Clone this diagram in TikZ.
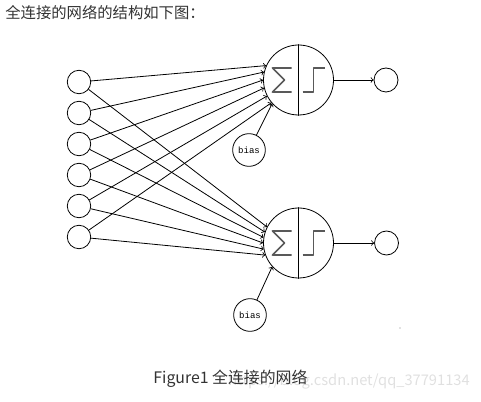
\documentclass[tikz,border=0pt]{standalone}
\usepackage{fontspec}
\setmainfont{Noto Sans CJK SC}
\newfontfamily\biasfont{Liberation Mono}
\begin{document}
\begin{tikzpicture}[x=0.75pt, y=-0.75pt, line cap=round, line join=round, line width=0.6pt,
    unit/.style={circle, draw, minimum size=17.6pt, inner sep=0pt},
    neuron/.style={circle, draw, minimum size=52.5pt, inner sep=0pt},
    biasnode/.style={circle, draw, minimum size=24.5pt, inner sep=0pt, font=\biasfont\fontsize{6.8}{8}\selectfont},
    outnode/.style={circle, draw, minimum size=18pt, inner sep=0pt},
    link/.style={->},
    glyph/.style={line width=1.3pt, black!65, line cap=butt}]
    \useasboundingbox (0,0) rectangle (481,402);
    \node[anchor=west, inner sep=0pt, text=black!80, font=\fontsize{11.5}{14}\selectfont] (title) at (5,13) {全连接的网络的结构如下图：};
    % inputs
    \foreach \i in {1,...,6}
      \node[unit] (in\i) at (79,{82+31*(\i-1)}) {};
    % neurons with sum and step
    \foreach \n/\y in {1/80, 2/243} {
      \node[neuron] (n\n) at (298.5,\y) {};
      \draw (n\n.north) -- (n\n.south);
      \draw[glyph] ([shift={(-7,-12)}]n\n.center) -- ++(-19,0) -- ++(12,12) -- ++(-12,12) -- ++(19,0);
      \draw[glyph] ([shift={(4,12)}]n\n.center) -- ++(11,0) -- ++(0,-24) -- ++(11,0);
    }
    \node[biasnode] (b1) at (249,150) {bias};
    \node[biasnode] (b2) at (250,315) {bias};
    \node[outnode] (out1) at (386,80) {};
    \node[outnode] (out2) at (386.5,243) {};
    % connections
    \foreach \i/\a/\b in {1/156/153, 2/167/162, 3/180/171, 4/193/180, 5/207/190, 6/220/200} {
      \draw[link] (in\i) -- (n1.\a);
      \draw[link] (in\i) -- (n2.\b);
    }
    \draw[link] (b1) -- (n1.222);
    \draw[link] (b2) -- (n2.222);
    \draw[link] (n1) -- (out1);
    \draw[link] (n2) -- (out2);
    \fill[black!50] (400,328) circle (0.6);
    % caption
    \node[anchor=west, inner sep=0pt, text=black!12, font=\fontsize{11}{14}\selectfont] (mark) at (228,381) {https://blog.csdn.net/qq\_37791134};
    \node[anchor=west, inner sep=0pt, text=black!80, font=\fontsize{11.9}{14}\selectfont] (caption) at (153,379) {Figure1 全连接的网络};
  \end{tikzpicture}
\end{document}
